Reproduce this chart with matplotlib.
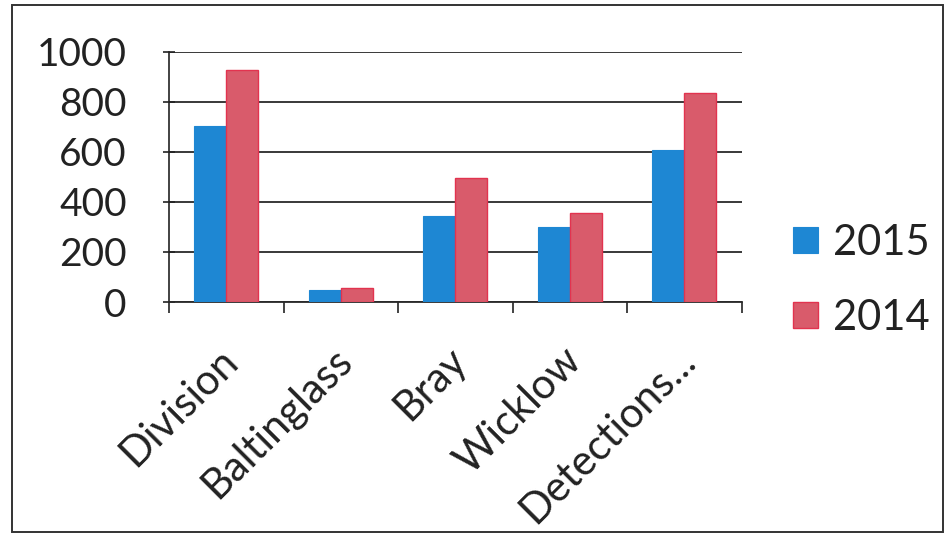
import numpy as np
import matplotlib.pyplot as plt
from matplotlib.patches import Rectangle
import matplotlib.transforms as mtransforms

plt.rcParams['font.family'] = ['Lato', 'DejaVu Sans']

categories = ['Division', 'Baltinglass', 'Bray', 'Wicklow', 'Detections...']
vals_2015 = [705, 48, 342, 298, 607]
vals_2014 = [928, 56, 496, 354, 834]
yticks = [0, 200, 400, 600, 800, 1000]

blue = '#1e87d3'
red = '#d95b6b'
red_edge = '#e2334f'
txt = '#222222'

fig = plt.figure(figsize=(9.52, 5.4), dpi=100)
ax = fig.add_axes([0.1775, 0.4407, 0.6015, 0.4633])

x = np.arange(len(categories))
w = 0.28
ax.bar(x - w / 2, vals_2015, w, color=blue, edgecolor=blue, linewidth=0.8, label='2015', zorder=3)
ax.bar(x + w / 2, vals_2014, w, color=red, edgecolor=red_edge, linewidth=1.0, label='2014', zorder=3)

ax.set_xlim(-0.5, len(categories) - 0.5)
ax.set_ylim(0, 1000)
ax.set_yticks(yticks)
ax.set_yticklabels([str(v) for v in yticks], fontsize=28, color=txt)
ax.yaxis.grid(True, color='#2a2a2a', linewidth=1.3, zorder=0)
ax.set_axisbelow(True)

# category labels on major ticks, boundary marks on minor ticks
ax.set_xticks(x)
ax.set_xticklabels(categories, fontsize=30, color=txt, rotation=45,
                   ha='right', va='top', rotation_mode='anchor')
ax.set_xticks(np.arange(len(categories) + 1) - 0.5, minor=True)
ax.tick_params(axis='x', which='major', length=0, pad=28)
ax.tick_params(axis='x', which='minor', length=8, width=1.2, direction='out', color='#222')
ax.tick_params(axis='y', length=9, width=1.2, direction='inout', color='#222', pad=26)
offset = mtransforms.ScaledTranslation(-6 / 72, 0, fig.dpi_scale_trans)
for lab in ax.get_xticklabels():
    lab.set_transform(lab.get_transform() + offset)

for s in ['top', 'right']:
    ax.spines[s].set_visible(False)
ax.spines['left'].set_color('#222')
ax.spines['left'].set_linewidth(1.2)
ax.spines['bottom'].set_color('#2a2a2a')
ax.spines['bottom'].set_linewidth(1.3)

h, l = ax.get_legend_handles_labels()
leg = fig.legend(h, l, loc='center left', bbox_to_anchor=(0.833, 0.481), frameon=False,
                 fontsize=30, handlelength=0.6, handleheight=0.6, handletextpad=0.36,
                 labelspacing=0.88, borderaxespad=0, borderpad=0)
for t in leg.get_texts():
    t.set_color(txt)

# page frame
fig.patches.append(Rectangle((12, 8), 931, 527, transform=None, fill=False,
                             edgecolor='#333', linewidth=1.4))

fig.savefig('out.png', dpi=100)
